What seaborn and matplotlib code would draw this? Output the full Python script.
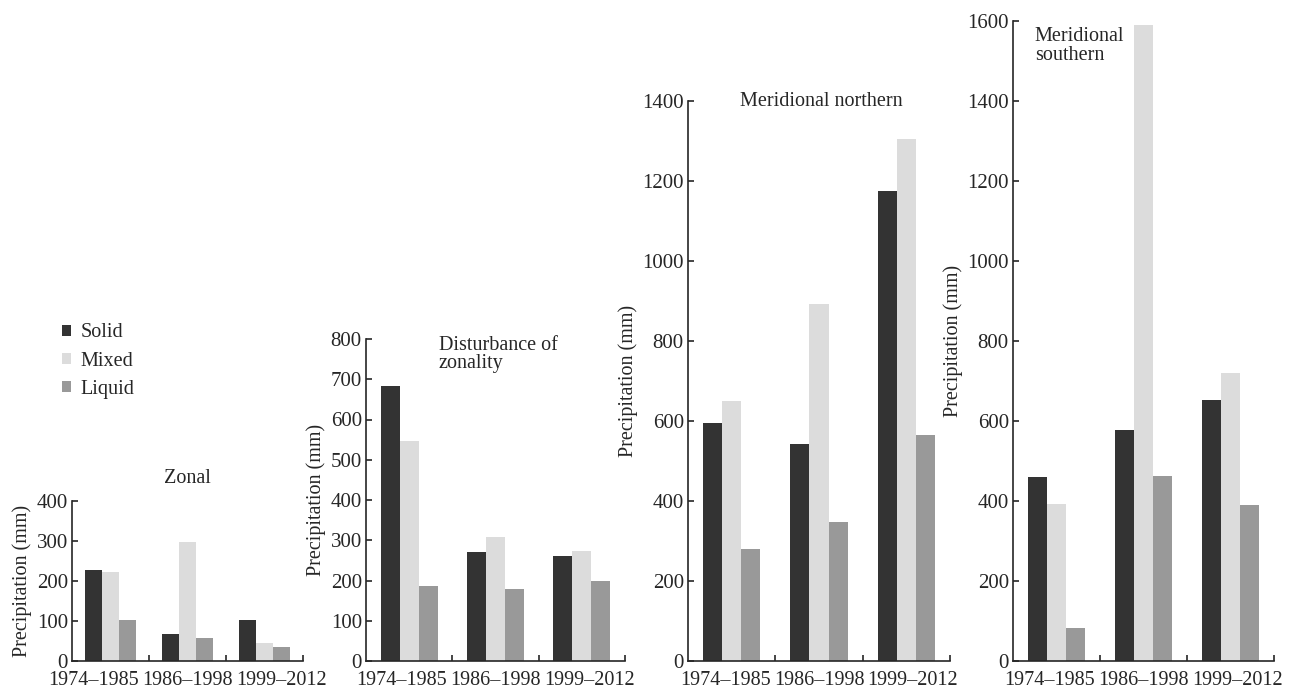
import numpy as np
import pandas as pd
import matplotlib
matplotlib.use('Agg')
import matplotlib.pyplot as plt
import matplotlib.transforms as mtransforms
import seaborn as sns

# ── DATA ──────────────────────────────────────────────────
PERIODS = ['1974–1985', '1986–1998', '1999–2012']
TYPES = ['Solid', 'Mixed', 'Liquid']
COLORS = ['#333333', '#dcdcdc', '#999999']

zonal_solid = [227, 67, 102]
zonal_mixed = [223, 298, 45]
zonal_liquid = [102, 57, 35]

disturb_solid = [682, 270, 260]
disturb_mixed = [547, 308, 274]
disturb_liquid = [187, 179, 198]

north_solid = [594, 542, 1174]
north_mixed = [651, 892, 1306]
north_liquid = [281, 348, 564]

south_solid = [460, 577, 653]
south_mixed = [392, 1591, 721]
south_liquid = [82, 462, 390]

# ── STYLE ─────────────────────────────────────────────────
sns.set_style('ticks')
plt.rcParams['font.family'] = ['Liberation Serif', 'DejaVu Serif']
plt.rcParams['axes.linewidth'] = 1.2

W, H = 1309, 693
fig = plt.figure(figsize=(W / 100, H / 100), dpi=100)
BASE = 661  # pixel row of the common zero line


def make_axes(x0, x1, top):
    return fig.add_axes([x0 / W, 1 - BASE / H, (x1 - x0) / W, (BASE - top) / H])


def draw_panel(ax, solid, mixed, liquid, ymax, ystep, legend=False):
    df = pd.DataFrame({
        'Period': PERIODS * 3,
        'Type': np.repeat(TYPES, len(PERIODS)),
        'Precip': solid + mixed + liquid,
    })
    sns.barplot(data=df, x='Period', y='Precip', hue='Type', hue_order=TYPES,
                palette=COLORS, width=0.66, saturation=1, linewidth=0,
                ax=ax, legend=legend)
    ax.set_xlim(-0.5, 2.5)
    ax.set_ylim(0, ymax)
    ax.set_yticks(np.arange(0, ymax + 1, ystep))
    ax.tick_params(axis='y', direction='in', length=4, width=1.2,
                   labelsize=15, pad=3)
    ax.tick_params(axis='x', which='major', length=0, labelsize=14.5, pad=7)
    ax.set_xticks([0.5, 1.5, 2.5], minor=True)
    ax.tick_params(axis='x', which='minor', direction='in', length=4, width=1.2)
    ax.set_xlabel('')
    ax.set_ylabel('Precipitation (mm)', fontsize=14.5, labelpad=3)
    sns.despine(ax=ax)


ax1 = make_axes(72, 303, 501)
ax2 = make_axes(366, 625, 339)
ax3 = make_axes(688, 950, 101)
ax4 = make_axes(1013, 1274, 21)

draw_panel(ax1, zonal_solid, zonal_mixed, zonal_liquid, 400, 100, legend=True)
draw_panel(ax2, disturb_solid, disturb_mixed, disturb_liquid, 800, 100)
draw_panel(ax3, north_solid, north_mixed, north_liquid, 1400, 200)
draw_panel(ax4, south_solid, south_mixed, south_liquid, 1600, 200)

# panel titles
ax1.text(0.5, 1.14, 'Zonal', transform=ax1.transAxes, ha='center',
         va='center', fontsize=14.5)
ax2.text(0.28, 1.01, 'Disturbance of\nzonality', transform=ax2.transAxes,
         ha='left', va='top', fontsize=14.5, linespacing=0.95)
ax3.text(0.2, 1.0, 'Meridional northern', transform=ax3.transAxes,
         ha='left', va='center', fontsize=14.5)
ax4.text(0.084, 0.99, 'Meridional\nsouthern', transform=ax4.transAxes,
         ha='left', va='top', fontsize=14.5, linespacing=0.95)

# legend sits above the first panel
handles, labels = ax1.get_legend_handles_labels()
ax1.get_legend().remove()
fig.legend(handles, labels, loc='center left',
           bbox_to_anchor=(62 / W, 1 - 361 / H), frameon=False,
           handlelength=0.45, handleheight=0.45, handletextpad=0.45,
           labelspacing=0.45, borderpad=0, borderaxespad=0, fontsize=14.5)

# the period labels are wider than a category: spread them side by side
fig.canvas.draw()
renderer = fig.canvas.get_renderer()
for ax in [ax1, ax2, ax3, ax4]:
    ticklabels = ax.get_xticklabels()
    label_w = max(t.get_window_extent(renderer).width for t in ticklabels)
    cat_w = ax.transData.transform((1, 0))[0] - ax.transData.transform((0, 0))[0]
    extra = max(0.0, label_w + 3 - cat_w)
    for i, t in enumerate(ticklabels):
        shift = mtransforms.ScaledTranslation((i - 1) * extra / fig.dpi, 0,
                                              fig.dpi_scale_trans)
        t.set_transform(t.get_transform() + shift)

fig.savefig('out.png', dpi=100, facecolor='white')
